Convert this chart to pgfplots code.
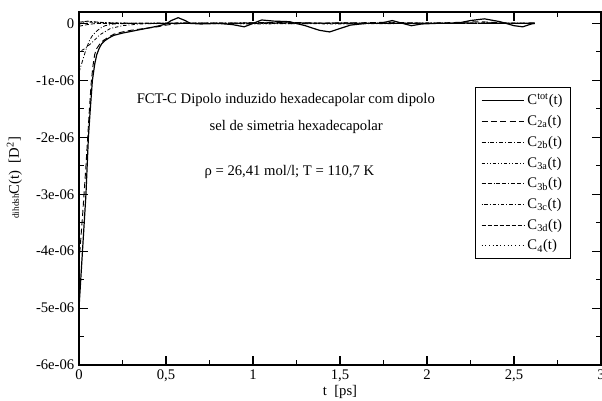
\documentclass[border=0pt]{standalone}
\usepackage{pgfplots}
\pgfplotsset{compat=1.18}
\usepackage{fontspec}
\setmainfont{Liberation Serif}
\begin{document}
\begin{tikzpicture}
\begin{axis}[
  at={(0,0)}, anchor=south west,
  scale only axis,
  width=391.5pt, height=264.75pt,
  xmin=0, xmax=3, ymin=-6e-6, ymax=0.2e-6,
  xtick={0,0.5,1,1.5,2,2.5,3},
  xticklabels={0,{0,5},1,{1,5},2,{2,5},3},
  ytick={-6e-6,-5e-6,-4e-6,-3e-6,-2e-6,-1e-6,0},
  yticklabels={-6e-06,-5e-06,-4e-06,-3e-06,-2e-06,-1e-06,0},
  minor x tick num=1, minor y tick num=1,
  scaled y ticks=false,
  tick align=inside,
  major tick length=7pt, minor tick length=3.75pt,
  every tick/.style={black, line width=0.8pt},
  axis line style={line width=0.9pt},
  tick label style={font=\fontsize{11}{12}\selectfont},
  /pgf/number format/assume math mode=true,
  xlabel={t\ \ [ps]},
  xlabel style={font=\fontsize{11}{12}\selectfont, yshift=4pt},
  ylabel={{\fontsize{7}{8}\selectfont dihdsh}C(t)\ \ [D\textsuperscript{2}]},
  ylabel style={font=\fontsize{11}{12}\selectfont, at={(axis description cs:-0.1,0.53)}, anchor=south},
  legend cell align=left,
  legend style={at={(0.759,0.788)}, anchor=north west, draw=black, line width=0.6pt,
    font=\fontsize{11}{12}\selectfont, row sep=2.4pt, inner xsep=4pt, inner ysep=3pt,
    /tikz/every even column/.append style={column sep=2pt}},
  legend image code/.code={\draw[#1] (0pt,0pt) -- (32pt,0pt);},
]
% C tot
\addplot[black, line width=0.9pt] coordinates {
(0,-5.0e-6) (0.01,-4.5e-6) (0.02,-4.0e-6) (0.03,-3.5e-6) (0.04,-3.0e-6) (0.047,-2.5e-6)
(0.054,-2.0e-6) (0.065,-1.5e-6) (0.077,-1.0e-6) (0.09,-0.72e-6) (0.102,-0.55e-6) (0.117,-0.43e-6)
(0.13,-0.36e-6) (0.15,-0.3e-6) (0.175,-0.25e-6) (0.2,-0.21e-6) (0.25,-0.17e-6) (0.3,-0.14e-6)
(0.35,-0.11e-6) (0.4,-0.08e-6) (0.45,-0.05e-6) (0.5,-0.01e-6) (0.53,0.05e-6) (0.57,0.1e-6)
(0.61,0.05e-6) (0.64,0.0) (0.7,-0.01e-6) (0.8,0.0) (0.88,-0.02e-6) (0.95,-0.06e-6) (1.0,0.0)
(1.05,0.06e-6) (1.12,0.04e-6) (1.21,0.03e-6) (1.3,-0.04e-6) (1.38,-0.12e-6) (1.44,-0.15e-6)
(1.5,-0.09e-6) (1.56,-0.03e-6) (1.65,0.0) (1.73,0.0) (1.8,0.05e-6) (1.86,0.0) (1.91,-0.04e-6)
(1.97,-0.01e-6) (2.05,0.0) (2.17,0.0) (2.25,0.05e-6) (2.33,0.08e-6) (2.42,0.03e-6) (2.5,-0.04e-6)
(2.55,-0.06e-6) (2.6,-0.01e-6) (2.62,0.0)
};
\addlegendentry{C\textsuperscript{tot}(t)}
% C2a
\addplot[black, line width=0.7pt, dash pattern=on 4.5pt off 2.5pt] coordinates {
(0,-4.2e-6) (0.01,-3.8e-6) (0.02,-3.4e-6) (0.03,-2.95e-6) (0.04,-2.5e-6) (0.05,-2.0e-6)
(0.06,-1.5e-6) (0.07,-1.05e-6) (0.08,-0.75e-6) (0.09,-0.55e-6) (0.1,-0.45e-6) (0.12,-0.36e-6)
(0.14,-0.3e-6) (0.17,-0.24e-6) (0.2,-0.19e-6) (0.25,-0.15e-6) (0.3,-0.12e-6) (0.35,-0.1e-6)
(0.4,-0.08e-6) (0.45,-0.06e-6) (0.5,-0.03e-6) (0.55,-0.01e-6) (0.6,0) (0.8,0) (1.0,0.01e-6)
(1.2,0.02e-6) (1.4,0) (1.6,0.01e-6) (1.8,0.02e-6) (2.0,0) (2.3,0.03e-6) (2.5,0) (2.62,0.01e-6)
};
\addlegendentry{C\textsubscript{2a}(t)}
% C2b
\addplot[black, line width=0.6pt, dash pattern=on 3pt off 1.5pt on 0.7pt off 1.5pt] coordinates {
(0,-0.86e-6) (0.02,-0.66e-6) (0.04,-0.46e-6) (0.06,-0.3e-6) (0.08,-0.2e-6) (0.1,-0.14e-6)
(0.12,-0.09e-6) (0.15,-0.04e-6) (0.2,-0.01e-6) (0.3,0) (0.6,0.01e-6) (1.0,0) (1.5,0.01e-6)
(2.0,0) (2.62,0)
};
\addlegendentry{C\textsubscript{2b}(t)}
% C3a
\addplot[black, line width=0.6pt, dash pattern=on 2.5pt off 1.5pt on 0.7pt off 1.5pt on 0.7pt off 1.5pt] coordinates {
(0,-0.02e-6) (0.03,0.03e-6) (0.08,0.02e-6) (0.2,0) (0.6,0) (1.0,-0.01e-6) (1.5,0) (2.0,0.01e-6) (2.62,0)
};
\addlegendentry{C\textsubscript{3a}(t)}
% C3b
\addplot[black, line width=0.6pt, dash pattern=on 3pt off 1.5pt on 3pt off 1.5pt on 0.7pt off 1.5pt] coordinates {
(0,0.02e-6) (0.05,0.04e-6) (0.15,0.01e-6) (0.4,0) (1.0,0.01e-6) (1.6,0) (2.2,0) (2.62,0)
};
\addlegendentry{C\textsubscript{3b}(t)}
% C3c
\addplot[black, line width=0.6pt, dash pattern=on 0.7pt off 1.5pt on 2.5pt off 1.5pt] coordinates {
(0,-0.5e-6) (0.03,-0.45e-6) (0.07,-0.35e-6) (0.12,-0.2e-6) (0.18,-0.09e-6) (0.25,-0.04e-6)
(0.35,-0.01e-6) (0.5,0) (1.0,0) (1.5,-0.01e-6) (2.0,0) (2.62,0)
};
\addlegendentry{C\textsubscript{3c}(t)}
% C3d
\addplot[black, line width=0.6pt, dash pattern=on 3pt off 1.5pt] coordinates {
(0,-0.05e-6) (0.05,-0.02e-6) (0.1,0) (0.3,0) (0.8,0) (1.2,0.01e-6) (1.8,0) (2.4,0.01e-6) (2.62,0)
};
\addlegendentry{C\textsubscript{3d}(t)}
% C4
\addplot[black, line width=0.7pt, dash pattern=on 0.8pt off 2pt] coordinates {
(0,0.01e-6) (0.04,0.03e-6) (0.1,0.02e-6) (0.3,0) (1.0,0) (2.0,0) (2.62,0)
};
\addlegendentry{C\textsubscript{4}(t)}
\node[anchor=west, font=\fontsize{11}{12}\selectfont] at (axis cs:0.305,-1.35e-6) {FCT-C Dipolo induzido hexadecapolar com dipolo};
\node[anchor=west, font=\fontsize{11}{12}\selectfont] at (axis cs:0.724,-1.82e-6) {sel de simetria hexadecapolar};
\node[anchor=west, font=\fontsize{11}{12}\selectfont] at (axis cs:0.695,-2.61e-6) {ρ = 26,41 mol/l; T = 110,7 K};
\end{axis}
\pgfresetboundingbox
\useasboundingbox (-59.25pt,-26.25pt) rectangle (392.25pt,273.75pt);
\end{tikzpicture}
\end{document}
